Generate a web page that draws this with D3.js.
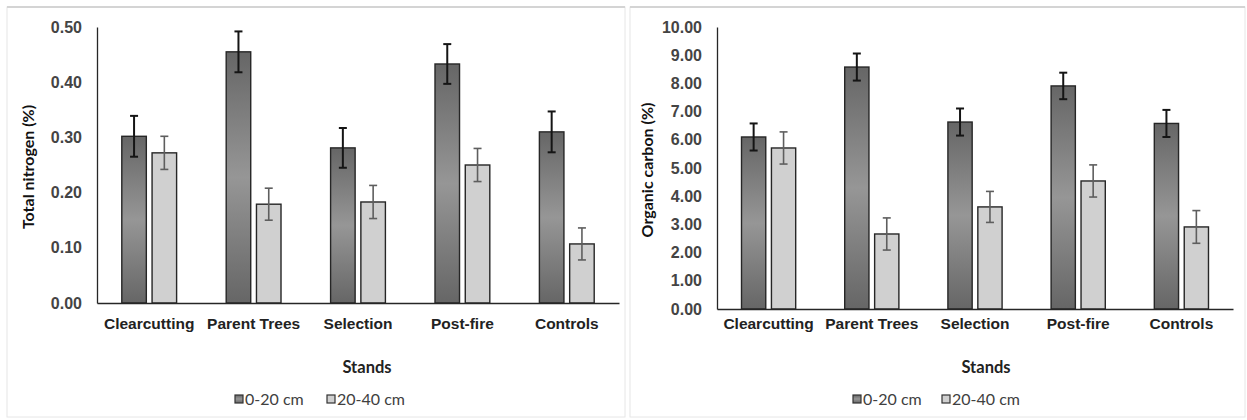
<!DOCTYPE html>
<html>
<head>
<meta charset="utf-8">
<script src="https://cdn.jsdelivr.net/npm/d3@7"></script>
<style>
  body { margin: 0; background: #fff; }
  svg { display: block; font-family: Lato, "Open Sans", sans-serif; }
</style>
</head>
<body>
<svg id="chart" width="1247" height="420"></svg>
<script>
const stands = ["Clearcutting", "Parent Trees", "Selection", "Post-fire", "Controls"];
const depths = ["0-20 cm", "20-40 cm"];

// total nitrogen (%)
const nitrogenTop = [0.302, 0.455, 0.281, 0.433, 0.310];
const nitrogenTopErr = [0.037, 0.037, 0.036, 0.036, 0.037];
const nitrogenSub = [0.272, 0.179, 0.183, 0.250, 0.107];
const nitrogenSubErr = [0.030, 0.029, 0.030, 0.030, 0.029];

// organic carbon (%)
const carbonTop = [6.10, 8.58, 6.63, 7.91, 6.58];
const carbonTopErr = [0.48, 0.48, 0.48, 0.47, 0.48];
const carbonSub = [5.71, 2.66, 3.62, 4.54, 2.91];
const carbonSubErr = [0.57, 0.57, 0.55, 0.57, 0.58];

const nitrogenTicks = [0, 0.1, 0.2, 0.3, 0.4, 0.5];
const carbonTicks = d3.range(0, 11, 1);

const svg = d3.select("#chart");

const defs = svg.append("defs");
const grad = defs.append("linearGradient")
  .attr("id", "darkGrad")
  .attr("x1", 0).attr("y1", 0).attr("x2", 0).attr("y2", 1);
grad.append("stop").attr("offset", "0%").attr("stop-color", "#666");
grad.append("stop").attr("offset", "50%").attr("stop-color", "#969696");
grad.append("stop").attr("offset", "100%").attr("stop-color", "#666");

const colors = ["url(#darkGrad)", "#d0d0d0"];
const errColors = ["#151515", "#5e5e5e"];

function drawPanel(opt) {
  const g = svg.append("g");

  // panel frame
  g.append("rect")
    .attr("x", opt.frame[0]).attr("y", opt.frame[1])
    .attr("width", opt.frame[2]).attr("height", opt.frame[3])
    .attr("fill", "none").attr("stroke", "#e6e6e6").attr("stroke-width", 1);
  g.append("line")
    .attr("x1", opt.frame[0]).attr("x2", opt.frame[0] + opt.frame[2])
    .attr("y1", opt.frame[1]).attr("y2", opt.frame[1])
    .attr("stroke", "#d4d4d4").attr("stroke-width", 2);

  const x = d3.scaleBand().domain(stands).range([opt.left, opt.right]);
  const y = d3.scaleLinear().domain([0, opt.max]).range([opt.bottom, opt.top]);

  const barW = x.bandwidth() * 0.235;
  const gap = x.bandwidth() * 0.055;

  const series = [
    { vals: opt.top_, errs: opt.topErr },
    { vals: opt.sub, errs: opt.subErr }
  ];

  // y axis
  const yAxis = g.append("g")
    .attr("transform", `translate(${opt.left},0)`)
    .call(d3.axisLeft(y).tickValues(opt.ticks).tickSize(0).tickPadding(15)
      .tickFormat(d3.format(".2f")));
  yAxis.select(".domain").attr("stroke", "#262626").attr("stroke-width", 1.3);
  yAxis.selectAll("text")
    .attr("font-size", 16).attr("font-weight", 700).attr("fill", "#444");

  series.forEach((s, si) => {
    const off = si === 0 ? -gap / 2 - barW : gap / 2;
    g.selectAll(null)
      .data(stands)
      .join("rect")
      .attr("x", d => x(d) + x.bandwidth() / 2 + off)
      .attr("y", (d, i) => y(s.vals[i]))
      .attr("width", barW)
      .attr("height", (d, i) => y(0) - y(s.vals[i]))
      .attr("fill", colors[si])
      .attr("stroke", "#262626")
      .attr("stroke-width", 1.4);

    const eb = g.selectAll(null)
      .data(stands)
      .join("g")
      .attr("stroke", errColors[si])
      .attr("stroke-width", si === 0 ? 2 : 1.6);
    const cx = d => x(d) + x.bandwidth() / 2 + off + barW / 2;
    eb.append("line")
      .attr("x1", cx).attr("x2", cx)
      .attr("y1", (d, i) => y(s.vals[i] + s.errs[i]))
      .attr("y2", (d, i) => y(s.vals[i] - s.errs[i]));
    [1, -1].forEach(sign => {
      eb.append("line")
        .attr("x1", d => cx(d) - 4).attr("x2", d => cx(d) + 4)
        .attr("y1", (d, i) => y(s.vals[i] + sign * s.errs[i]))
        .attr("y2", (d, i) => y(s.vals[i] + sign * s.errs[i]));
    });
  });

  // x axis
  const xAxis = g.append("g")
    .attr("transform", `translate(0,${opt.bottom})`)
    .call(d3.axisBottom(x).tickSize(0).tickPadding(opt.xPad));
  xAxis.select(".domain").attr("stroke", "#262626").attr("stroke-width", 1.3);
  xAxis.selectAll("text")
    .attr("font-size", 15.5).attr("font-weight", 700).attr("fill", "#222");

  // axis titles
  g.append("text")
    .attr("transform", `translate(${opt.yTitleX},${(opt.top + opt.bottom) / 2 + 2}) rotate(-90)`)
    .attr("text-anchor", "middle")
    .attr("font-size", 16).attr("font-weight", 700).attr("fill", "#111")
    .text(opt.yTitle);

  g.append("text")
    .attr("x", opt.standsX).attr("y", 373)
    .attr("text-anchor", "middle")
    .attr("font-size", 16.5).attr("font-weight", 700).attr("fill", "#222")
    .text("Stands");

  // legend
  const lg = g.selectAll(null)
    .data(depths)
    .join("g")
    .attr("transform", (d, i) => `translate(${opt.legendX[i]},399)`);
  lg.append("rect")
    .attr("x", 0).attr("y", -4).attr("width", 8).attr("height", 8)
    .attr("fill", (d, i) => colors[i])
    .attr("stroke", "#333").attr("stroke-width", 1.2);
  lg.append("text")
    .attr("x", 10).attr("y", 5.5)
    .attr("font-size", 16).attr("fill", "#404040")
    .text(d => d);
}

drawPanel({
  frame: [7, 7, 618, 410],
  left: 97, right: 619, top: 27, bottom: 303,
  max: 0.5, ticks: nitrogenTicks, xPad: 15,
  top_: nitrogenTop, topErr: nitrogenTopErr,
  sub: nitrogenSub, subErr: nitrogenSubErr,
  yTitle: "Total nitrogen (%)", yTitleX: 34,
  standsX: 367, legendX: [235, 327]
});

drawPanel({
  frame: [630, 7, 615, 410],
  left: 717, right: 1233, top: 27, bottom: 309,
  max: 10, ticks: carbonTicks, xPad: 9,
  top_: carbonTop, topErr: carbonTopErr,
  sub: carbonSub, subErr: carbonSubErr,
  yTitle: "Organic carbon (%)", yTitleX: 653,
  standsX: 986, legendX: [853, 942]
});
</script>
</body>
</html>
